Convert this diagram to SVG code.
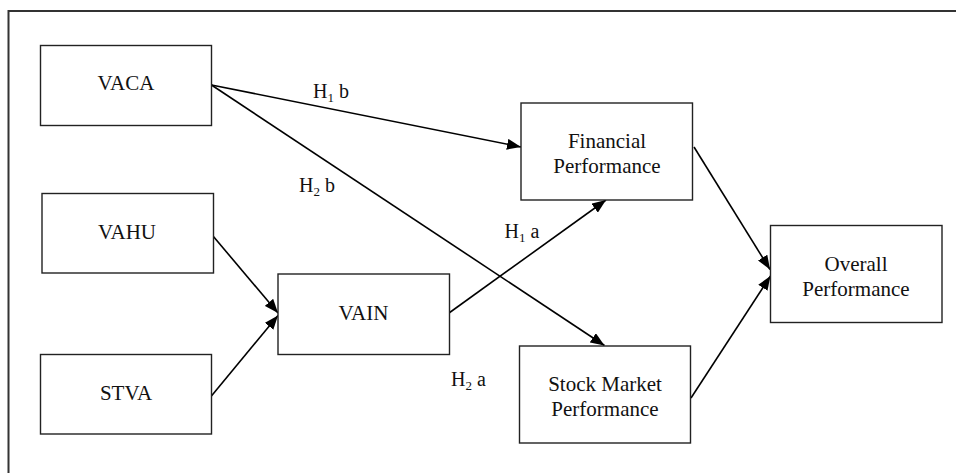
<svg xmlns="http://www.w3.org/2000/svg" width="956" height="473" viewBox="0 0 956 473">
<defs>
<style>
.box{fill:#fff;stroke:#222;stroke-width:1.4}
.lbl{font-size:21px;fill:#111;text-anchor:middle}
.hyp{font-size:20px;fill:#111}
.sub{font-size:13px}
.edge{stroke:#000;stroke-width:1.6;fill:none;marker-end:url(#arr)}
</style>
<marker id="arr" markerUnits="userSpaceOnUse" markerWidth="14" markerHeight="11" refX="14" refY="5.5" orient="auto">
<path d="M0,0 L14,5.5 L0,11 z" fill="#000"/>
</marker>
</defs>
<rect width="956" height="473" fill="#fff"/>
<path d="M8.5 473 V11 H956" fill="none" stroke="#333" stroke-width="2"/>
<g id="connectors">
<line class="edge" x1="211.5" y1="85" x2="521" y2="147"/>
<line class="edge" x1="211.5" y1="85" x2="604.5" y2="345.5"/>
<line class="edge" x1="213" y1="236" x2="278" y2="313"/>
<line class="edge" x1="211" y1="396.5" x2="278" y2="315.5"/>
<line class="edge" x1="449" y1="313" x2="606" y2="200"/>
<line class="edge" x1="694" y1="147" x2="770" y2="269.5"/>
<line class="edge" x1="691" y1="398" x2="770.5" y2="276"/>
</g>
<g font-family="Liberation Serif, Tinos, serif">
<g id="labels">
<text class="hyp" x="313" y="97.5">H<tspan class="sub" dy="4">1</tspan><tspan dy="-4"> b</tspan></text>
<text class="hyp" x="299" y="191.5">H<tspan class="sub" dy="4">2</tspan><tspan dy="-4"> b</tspan></text>
<text class="hyp" x="504.5" y="237.5">H<tspan class="sub" dy="4">1</tspan><tspan dy="-4"> a</tspan></text>
<text class="hyp" x="451" y="385.5">H<tspan class="sub" dy="4">2</tspan><tspan dy="-4"> a</tspan></text>
</g>
<g id="vaca"><rect class="box" x="40.5" y="45.5" width="171" height="80"/><text class="lbl" x="126" y="90">VACA</text></g>
<g id="vahu"><rect class="box" x="42" y="193.5" width="171.5" height="79.5"/><text class="lbl" x="127" y="239">VAHU</text></g>
<g id="stva"><rect class="box" x="40.5" y="354.5" width="171" height="79.5"/><text class="lbl" x="126" y="400">STVA</text></g>
<g id="vain"><rect class="box" x="278" y="274" width="171.5" height="80.5"/><text class="lbl" x="363.5" y="319.5">VAIN</text></g>
<g id="financial"><rect class="box" x="521" y="103" width="171.5" height="97"/><text class="lbl" x="607" y="147.5">Financial</text><text class="lbl" x="607" y="173">Performance</text></g>
<g id="stock"><rect class="box" x="519.5" y="346" width="171" height="97"/><text class="lbl" x="605" y="390.5">Stock Market</text><text class="lbl" x="605" y="415.5">Performance</text></g>
<g id="overall"><rect class="box" x="770.5" y="225.5" width="171.5" height="97"/><text class="lbl" x="856" y="270.5">Overall</text><text class="lbl" x="856" y="295.5">Performance</text></g>
</g>
</svg>
